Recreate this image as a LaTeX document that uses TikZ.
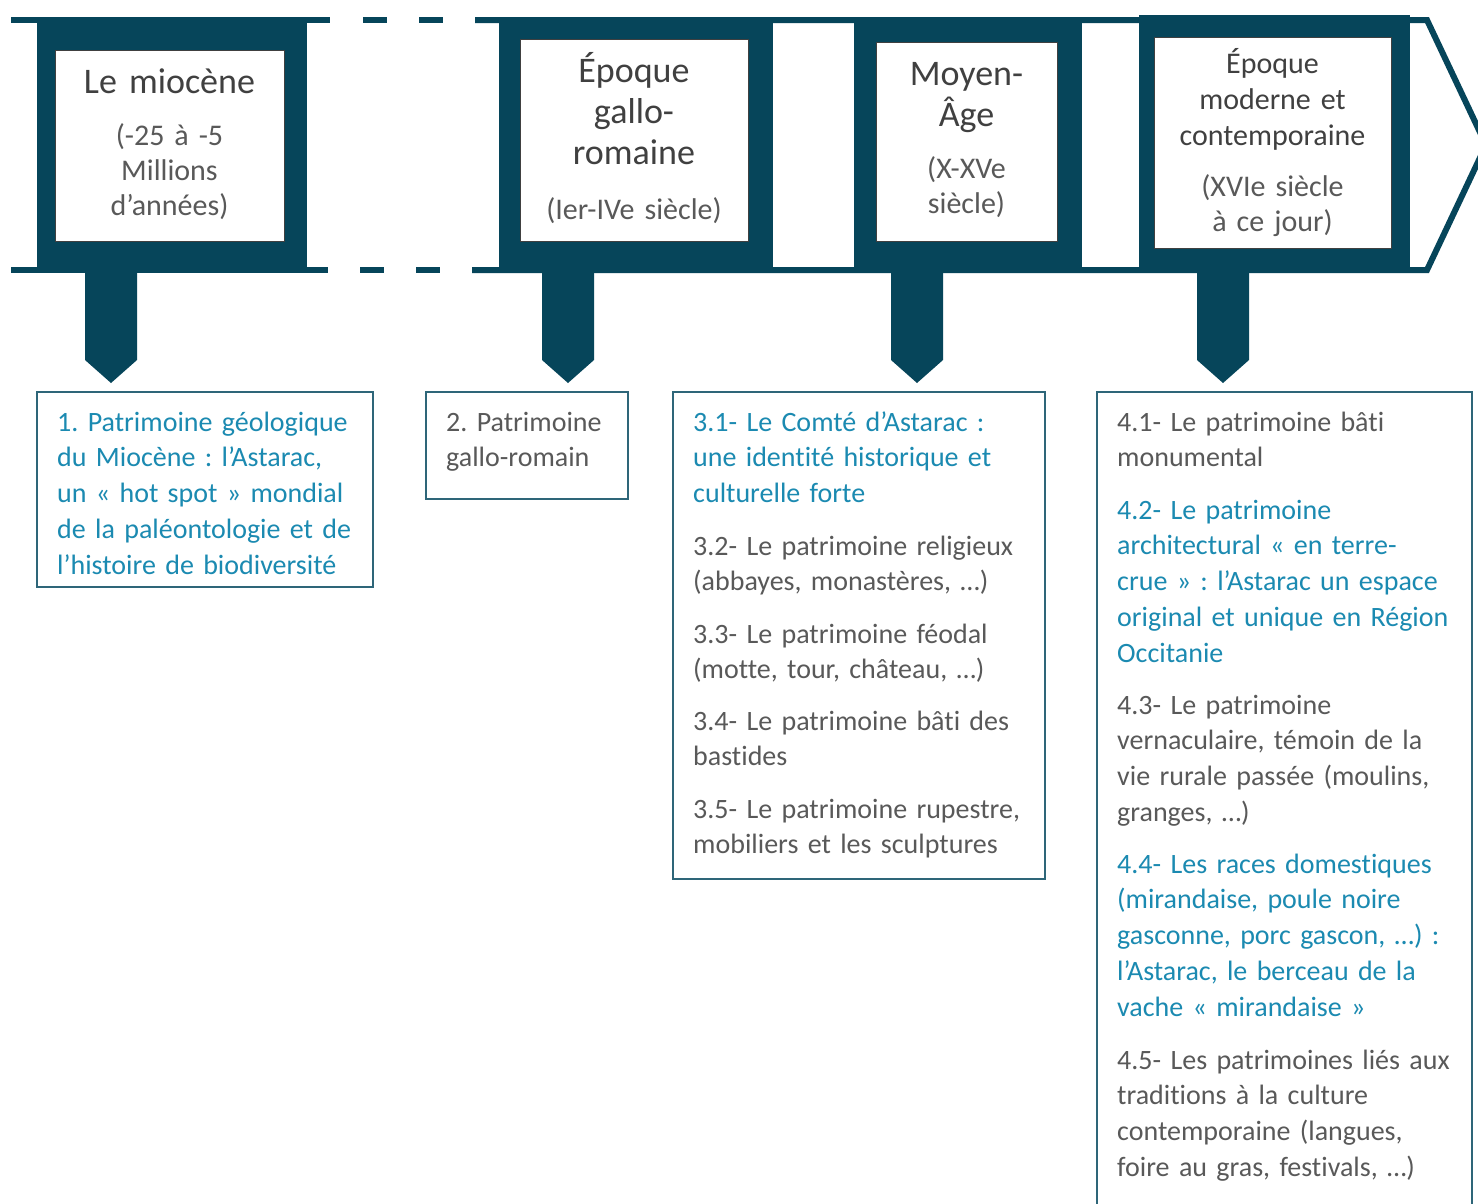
\documentclass[tikz,border=0pt]{standalone}
\usepackage{fontspec}
\setmainfont[Ligatures=NoCommon]{Carlito}
\frenchspacing
\definecolor{bandteal}{HTML}{06455A}
\definecolor{bluetxt}{HTML}{1B8AB1}
\definecolor{greytxt}{HTML}{595959}
\definecolor{titletxt}{HTML}{404040}
\definecolor{boxline}{HTML}{2E6679}
\begin{document}
\begin{tikzpicture}[x=1pt,y=-1pt,
  band/.style={draw=bandteal,line width=6pt},
  blockbox/.style={rectangle,fill=bandteal,inner sep=0pt},
  innerbox/.style={rectangle,fill=white,draw=black!75,line width=1pt,inner sep=0pt},
  lowbox/.style={rectangle,draw=boxline,line width=1.6pt,inner sep=0pt},
  stem/.style={fill=bandteal},
  body/.style={anchor=base west,inner sep=0pt,text width=420pt,align=left,font=\fontsize{28}{35.75}\selectfont\frenchspacing},
  bluep/.style={body,text=bluetxt},
  greyp/.style={body,text=greytxt},
  titleA/.style={anchor=base,inner sep=0pt,text width=240pt,align=center,text=titletxt,font=\fontsize{36}{41}\selectfont},
  titleB/.style={anchor=base,inner sep=0pt,text width=240pt,align=center,text=titletxt,font=\fontsize{30}{36}\selectfont},
  subt/.style={anchor=base,inner sep=0pt,text width=240pt,align=center,text=greytxt,font=\fontsize{30}{35}\selectfont}]
\clip (0,0) rectangle (1478,1203);
\fill[white] (0,0) rectangle (1478,1203);

% timeline band (arrow outline)
\draw[band] (11,20) -- (330,20);
\draw[band] (11,270) -- (328,270);
\draw[band] (363,20) -- (387,20) (419,20) -- (443,20);
\draw[band] (360,270) -- (384,270) (416,270) -- (440,270);
\draw[band,line join=miter] (475,20) -- (1427,20) -- (1486,145) -- (1427,270) -- (472,270);

% period blocks
\node[blockbox,minimum width=270pt,minimum height=256pt] (b1) at (172,145) {};
\node[blockbox,minimum width=274pt,minimum height=256pt] (b2) at (636,145) {};
\node[blockbox,minimum width=228pt,minimum height=256pt] (b3) at (968,145) {};
\node[blockbox,minimum width=271pt,minimum height=258pt] (b4) at (1274.5,144) {};

% inner white boxes
\node[innerbox,minimum width=229pt,minimum height=191pt] (i1) at (169.5,145.5) {};
\node[innerbox,minimum width=228pt,minimum height=202pt] (i2) at (634,140) {};
\node[innerbox,minimum width=181pt,minimum height=199pt] (i3) at (966.5,141.5) {};
\node[innerbox,minimum width=237pt,minimum height=211pt] (i4) at (1272.5,142.5) {};

% header texts
\node[titleA] (t1) at (169.5,93) {Le miocène};
\node[subt] (u1) at (169.5,145) {(-25 à -5\\Millions\\d’années)};
\node[titleA] (t2) at (634,82) {Époque\\gallo-\\romaine};
\node[subt] (u2) at (634,219) {(Ier-IVe siècle)};
\node[titleA] (t3) at (966.5,85) {Moyen-\\Âge};
\node[subt] (u3) at (966.5,178) {(X-XVe\\siècle)};
\node[titleB] (t4) at (1272.5,73) {Époque\\moderne et\\contemporaine};
\node[subt] (u4) at (1272.5,196) {(XVIe siècle\\à ce jour)};

% stems (pointers from periods to boxes)
\coordinate (s1) at (111,272);
\coordinate (s2) at (568,272);
\coordinate (s3) at (917,272);
\coordinate (s4) at (1223,272);
\foreach \s in {s1,s2,s3,s4}{
  \fill[stem] (\s) ++(-26,0) -- ++(52,0) -- ++(0,88) -- ++(-26,23) -- ++(-26,-23) -- cycle;
}

% lower boxes
\node[lowbox,minimum width=336pt,minimum height=195pt] (l1) at (205,489.5) {};
\node[lowbox,minimum width=202pt,minimum height=107pt] (l2) at (527,445.5) {};
\node[lowbox,minimum width=372pt,minimum height=487pt] (l3) at (859,635.5) {};
\node[inner sep=0pt,minimum width=375pt,minimum height=820pt] (l4) at (1284.5,802) {};
\draw[draw=boxline,line width=1.6pt] (l4.south west) -- (l4.north west) -- (l4.north east) -- (l4.south east);

% box 1
\node[bluep] (p1) at (57,431) {1. Patrimoine géologique\\du Miocène : l’Astarac,\\un « hot spot » mondial\\de la paléontologie et de\\l’histoire de biodiversité};
% box 2
\node[greyp] (p2) at (446,431) {2. Patrimoine\\gallo-romain};
% box 3
\node[bluep] (p31) at (693,431) {3.1- Le Comté d’Astarac :\\une identité historique et\\culturelle forte};
\node[greyp] (p32) at (693,555) {3.2- Le patrimoine religieux\\(abbayes, monastères, …)};
\node[greyp] (p33) at (693,643) {3.3- Le patrimoine féodal\\(motte, tour, château, …)};
\node[greyp] (p34) at (693,730) {3.4- Le patrimoine bâti des\\bastides};
\node[greyp] (p35) at (693,818) {3.5- Le patrimoine rupestre,\\mobiliers et les sculptures};
% box 4
\node[greyp] (p41) at (1117,431) {4.1- Le patrimoine bâti\\monumental};
\node[bluep] (p42) at (1117,519) {4.2- Le patrimoine\\architectural « en terre-\\crue » : l’Astarac un espace\\original et unique en Région\\Occitanie};
\node[greyp] (p43) at (1117,714) {4.3- Le patrimoine\\vernaculaire, témoin de la\\vie rurale passée (moulins,\\granges, …)};
\node[bluep] (p44) at (1117,873) {4.4- Les races domestiques\\(mirandaise, poule noire\\gasconne, porc gascon, …) :\\l’Astarac, le berceau de la\\vache « mirandaise »};
\node[greyp] (p45) at (1117,1069) {4.5- Les patrimoines liés aux\\traditions à la culture\\contemporaine (langues,\\foire au gras, festivals, …)};
\end{tikzpicture}
\end{document}
